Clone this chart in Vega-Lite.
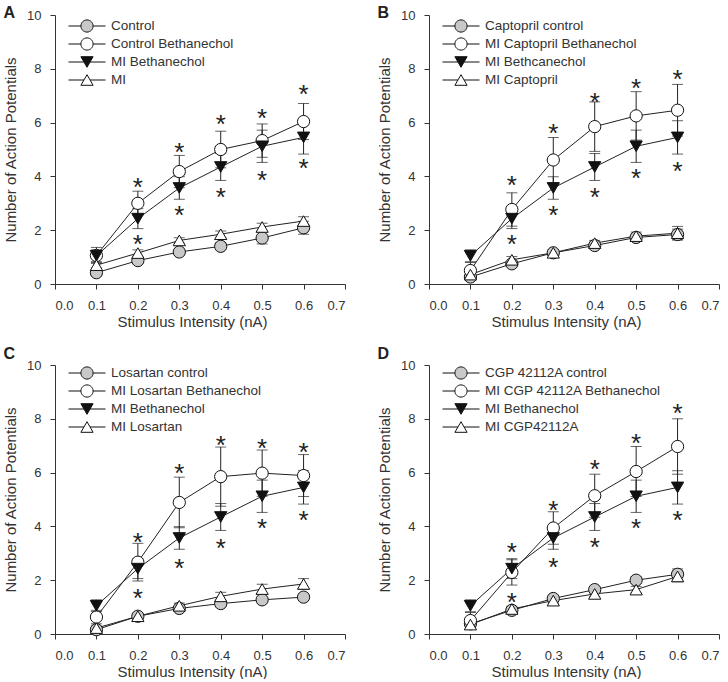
{
  "$schema": "https://vega.github.io/schema/vega-lite/v6.json",
  "padding": {"left": 3, "top": 5, "right": 0, "bottom": 0},
  "bounds": "flush",
  "columns": 2,
  "spacing": {"row": 81, "column": 84},
  "config": {
    "font": "Liberation Sans",
    "view": {"stroke": null},
    "axis": {"labelFontSize": 13, "titleFontSize": 15, "titleFontWeight": "normal", "grid": false, "domainColor": "#333", "tickColor": "#333", "labelColor": "#333", "titleColor": "#333", "tickSize": 5},
    "legend": {"labelFontSize": 13.5, "labelColor": "#333", "labelLimit": 300, "clipHeight": 18, "rowPadding": 0, "symbolSize": 1369, "labelOffset": 5, "symbolOffset": 0, "symbolStrokeWidth": 1, "padding": 0}
  },
  "resolve": {"scale": {"shape": "independent", "fill": "independent"}, "legend": {"shape": "independent", "fill": "independent"}},
  "datasets": {
    "pts": [
      {"p":"A","s":"Control","x":0.1,"y":0.42,"e":0.1},{"p":"A","s":"Control","x":0.2,"y":0.87,"e":0.1},{"p":"A","s":"Control","x":0.3,"y":1.19,"e":0.1},{"p":"A","s":"Control","x":0.4,"y":1.4,"e":0.12},{"p":"A","s":"Control","x":0.5,"y":1.71,"e":0.22},{"p":"A","s":"Control","x":0.6,"y":2.09,"e":0.24},
      {"p":"A","s":"Control Bethanechol","x":0.1,"y":1.06,"e":0.3},{"p":"A","s":"Control Bethanechol","x":0.2,"y":3.0,"e":0.45},{"p":"A","s":"Control Bethanechol","x":0.3,"y":4.18,"e":0.6},{"p":"A","s":"Control Bethanechol","x":0.4,"y":5.0,"e":0.68},{"p":"A","s":"Control Bethanechol","x":0.5,"y":5.33,"e":0.62},{"p":"A","s":"Control Bethanechol","x":0.6,"y":6.04,"e":0.67},
      {"p":"A","s":"MI Bethanechol","x":0.1,"y":1.05,"e":0.22},{"p":"A","s":"MI Bethanechol","x":0.2,"y":2.43,"e":0.37},{"p":"A","s":"MI Bethanechol","x":0.3,"y":3.57,"e":0.42},{"p":"A","s":"MI Bethanechol","x":0.4,"y":4.35,"e":0.5},{"p":"A","s":"MI Bethanechol","x":0.5,"y":5.12,"e":0.6},{"p":"A","s":"MI Bethanechol","x":0.6,"y":5.45,"e":0.62},
      {"p":"A","s":"MI","x":0.1,"y":0.7,"e":0.1},{"p":"A","s":"MI","x":0.2,"y":1.15,"e":0.12},{"p":"A","s":"MI","x":0.3,"y":1.62,"e":0.1},{"p":"A","s":"MI","x":0.4,"y":1.85,"e":0.12},{"p":"A","s":"MI","x":0.5,"y":2.12,"e":0.14},{"p":"A","s":"MI","x":0.6,"y":2.34,"e":0.16},

      {"p":"B","s":"Captopril control","x":0.1,"y":0.26,"e":0.1},{"p":"B","s":"Captopril control","x":0.2,"y":0.75,"e":0.08},{"p":"B","s":"Captopril control","x":0.3,"y":1.16,"e":0.1},{"p":"B","s":"Captopril control","x":0.4,"y":1.43,"e":0.1},{"p":"B","s":"Captopril control","x":0.5,"y":1.73,"e":0.12},{"p":"B","s":"Captopril control","x":0.6,"y":1.84,"e":0.2},
      {"p":"B","s":"MI Captopril Bethanechol","x":0.1,"y":0.5,"e":0.3},{"p":"B","s":"MI Captopril Bethanechol","x":0.2,"y":2.77,"e":0.62},{"p":"B","s":"MI Captopril Bethanechol","x":0.3,"y":4.61,"e":0.84},{"p":"B","s":"MI Captopril Bethanechol","x":0.4,"y":5.85,"e":0.92},{"p":"B","s":"MI Captopril Bethanechol","x":0.5,"y":6.25,"e":0.9},{"p":"B","s":"MI Captopril Bethanechol","x":0.6,"y":6.46,"e":0.96},
      {"p":"B","s":"MI Bethcanechol","x":0.1,"y":1.05,"e":0.22},{"p":"B","s":"MI Bethcanechol","x":0.2,"y":2.43,"e":0.37},{"p":"B","s":"MI Bethcanechol","x":0.3,"y":3.57,"e":0.42},{"p":"B","s":"MI Bethcanechol","x":0.4,"y":4.35,"e":0.5},{"p":"B","s":"MI Bethcanechol","x":0.5,"y":5.12,"e":0.6},{"p":"B","s":"MI Bethcanechol","x":0.6,"y":5.45,"e":0.62},
      {"p":"B","s":"MI Captopril","x":0.1,"y":0.35,"e":0.1},{"p":"B","s":"MI Captopril","x":0.2,"y":0.9,"e":0.12},{"p":"B","s":"MI Captopril","x":0.3,"y":1.16,"e":0.1},{"p":"B","s":"MI Captopril","x":0.4,"y":1.52,"e":0.1},{"p":"B","s":"MI Captopril","x":0.5,"y":1.78,"e":0.15},{"p":"B","s":"MI Captopril","x":0.6,"y":1.89,"e":0.25},

      {"p":"C","s":"Losartan control","x":0.1,"y":0.16,"e":0.08},{"p":"C","s":"Losartan control","x":0.2,"y":0.66,"e":0.08},{"p":"C","s":"Losartan control","x":0.3,"y":0.95,"e":0.08},{"p":"C","s":"Losartan control","x":0.4,"y":1.13,"e":0.1},{"p":"C","s":"Losartan control","x":0.5,"y":1.27,"e":0.1},{"p":"C","s":"Losartan control","x":0.6,"y":1.37,"e":0.1},
      {"p":"C","s":"MI Losartan Bethanechol","x":0.1,"y":0.63,"e":0.25},{"p":"C","s":"MI Losartan Bethanechol","x":0.2,"y":2.67,"e":0.7},{"p":"C","s":"MI Losartan Bethanechol","x":0.3,"y":4.89,"e":0.94},{"p":"C","s":"MI Losartan Bethanechol","x":0.4,"y":5.85,"e":1.1},{"p":"C","s":"MI Losartan Bethanechol","x":0.5,"y":5.98,"e":0.86},{"p":"C","s":"MI Losartan Bethanechol","x":0.6,"y":5.89,"e":0.78},
      {"p":"C","s":"MI Bethanechol","x":0.1,"y":1.05,"e":0.22},{"p":"C","s":"MI Bethanechol","x":0.2,"y":2.43,"e":0.37},{"p":"C","s":"MI Bethanechol","x":0.3,"y":3.57,"e":0.42},{"p":"C","s":"MI Bethanechol","x":0.4,"y":4.35,"e":0.5},{"p":"C","s":"MI Bethanechol","x":0.5,"y":5.12,"e":0.6},{"p":"C","s":"MI Bethanechol","x":0.6,"y":5.45,"e":0.62},
      {"p":"C","s":"MI Losartan","x":0.1,"y":0.22,"e":0.08},{"p":"C","s":"MI Losartan","x":0.2,"y":0.66,"e":0.08},{"p":"C","s":"MI Losartan","x":0.3,"y":1.05,"e":0.1},{"p":"C","s":"MI Losartan","x":0.4,"y":1.4,"e":0.15},{"p":"C","s":"MI Losartan","x":0.5,"y":1.67,"e":0.18},{"p":"C","s":"MI Losartan","x":0.6,"y":1.86,"e":0.2},

      {"p":"D","s":"CGP 42112A control","x":0.1,"y":0.38,"e":0.1},{"p":"D","s":"CGP 42112A control","x":0.2,"y":0.88,"e":0.08},{"p":"D","s":"CGP 42112A control","x":0.3,"y":1.32,"e":0.1},{"p":"D","s":"CGP 42112A control","x":0.4,"y":1.65,"e":0.1},{"p":"D","s":"CGP 42112A control","x":0.5,"y":2.0,"e":0.12},{"p":"D","s":"CGP 42112A control","x":0.6,"y":2.22,"e":0.2},
      {"p":"D","s":"MI CGP 42112A Bethanechol","x":0.1,"y":0.5,"e":0.3},{"p":"D","s":"MI CGP 42112A Bethanechol","x":0.2,"y":2.29,"e":0.47},{"p":"D","s":"MI CGP 42112A Bethanechol","x":0.3,"y":3.94,"e":0.6},{"p":"D","s":"MI CGP 42112A Bethanechol","x":0.4,"y":5.14,"e":0.8},{"p":"D","s":"MI CGP 42112A Bethanechol","x":0.5,"y":6.04,"e":0.93},{"p":"D","s":"MI CGP 42112A Bethanechol","x":0.6,"y":6.97,"e":1.03},
      {"p":"D","s":"MI Bethanechol","x":0.1,"y":1.05,"e":0.22},{"p":"D","s":"MI Bethanechol","x":0.2,"y":2.43,"e":0.37},{"p":"D","s":"MI Bethanechol","x":0.3,"y":3.57,"e":0.42},{"p":"D","s":"MI Bethanechol","x":0.4,"y":4.35,"e":0.5},{"p":"D","s":"MI Bethanechol","x":0.5,"y":5.12,"e":0.6},{"p":"D","s":"MI Bethanechol","x":0.6,"y":5.45,"e":0.62},
      {"p":"D","s":"MI CGP42112A","x":0.1,"y":0.35,"e":0.1},{"p":"D","s":"MI CGP42112A","x":0.2,"y":0.93,"e":0.1},{"p":"D","s":"MI CGP42112A","x":0.3,"y":1.24,"e":0.1},{"p":"D","s":"MI CGP42112A","x":0.4,"y":1.49,"e":0.1},{"p":"D","s":"MI CGP42112A","x":0.5,"y":1.65,"e":0.12},{"p":"D","s":"MI CGP42112A","x":0.6,"y":2.14,"e":0.2}
    ],
    "ast": [
      {"p":"A","x":0.2,"y":3.84},{"p":"A","x":0.2,"y":1.71},{"p":"A","x":0.3,"y":5.14},{"p":"A","x":0.3,"y":2.77},{"p":"A","x":0.4,"y":6.17},{"p":"A","x":0.4,"y":3.44},{"p":"A","x":0.5,"y":6.41},{"p":"A","x":0.5,"y":4.09},{"p":"A","x":0.6,"y":7.27},{"p":"A","x":0.6,"y":4.52},
      {"p":"B","x":0.2,"y":3.9},{"p":"B","x":0.2,"y":1.71},{"p":"B","x":0.3,"y":5.85},{"p":"B","x":0.3,"y":2.77},{"p":"B","x":0.4,"y":7.0},{"p":"B","x":0.4,"y":3.44},{"p":"B","x":0.5,"y":7.52},{"p":"B","x":0.5,"y":4.15},{"p":"B","x":0.6,"y":7.84},{"p":"B","x":0.6,"y":4.44},
      {"p":"C","x":0.2,"y":3.65},{"p":"C","x":0.2,"y":1.56},{"p":"C","x":0.3,"y":6.19},{"p":"C","x":0.3,"y":2.67},{"p":"C","x":0.4,"y":7.24},{"p":"C","x":0.4,"y":3.42},{"p":"C","x":0.5,"y":7.12},{"p":"C","x":0.5,"y":4.16},{"p":"C","x":0.6,"y":6.99},{"p":"C","x":0.6,"y":4.47},
      {"p":"D","x":0.2,"y":3.26},{"p":"D","x":0.2,"y":1.42},{"p":"D","x":0.3,"y":4.84},{"p":"D","x":0.3,"y":2.7},{"p":"D","x":0.4,"y":6.35},{"p":"D","x":0.4,"y":3.44},{"p":"D","x":0.5,"y":7.34},{"p":"D","x":0.5,"y":4.15},{"p":"D","x":0.6,"y":8.45},{"p":"D","x":0.6,"y":4.47}
    ]
  },
  "concat": [
    {
      "title": {"text": "A", "anchor": "start", "frame": "bounds", "fontSize": 16, "fontWeight": "bold", "color": "#222", "baseline": "alphabetic", "offset": -25},
      "width": 290, "height": 269,
      "encoding": {
        "x": {"field": "x", "type": "quantitative", "scale": {"domain": [0, 0.7], "nice": false}, "axis": {"title": "Stimulus Intensity (nA)", "values": [0,0.1,0.2,0.3,0.4,0.5,0.6,0.7], "format": ".1f", "labelPadding": 10, "titlePadding": 2, "titleX": 137}},
        "y": {"field": "y", "type": "quantitative", "scale": {"domain": [0, 10], "nice": false}, "axis": {"title": "Number of Action Potentials", "values": [0,2,4,6,8,10], "format": "d", "labelPadding": 9, "titlePadding": 8}}
      },
      "layer": [
        {"data": {"name": "pts"}, "transform": [{"filter": "datum.p === 'A'"}], "mark": {"type": "errorbar", "ticks": {"size": 11, "color": "#222"}, "rule": {"color": "#222", "strokeWidth": 1}}, "encoding": {"yError": {"field": "e"}, "detail": {"field": "s"}}},
        {"data": {"name": "pts"}, "transform": [{"filter": "datum.p === 'A'"}], "mark": {"type": "line", "color": "#222", "strokeWidth": 1}, "encoding": {"detail": {"field": "s"}}},
        {"data": {"name": "pts"}, "transform": [{"filter": "datum.p === 'A'"}], "mark": {"type": "point", "filled": true, "size": 150, "stroke": "#111", "strokeWidth": 1, "opacity": 1},
         "encoding": {
           "shape": {"field": "s", "scale": {"domain": ["Control", "Control Bethanechol", "MI Bethanechol", "MI"], "range": ["circle", "circle", "triangle-down", "triangle-up"]}, "legend": null},
           "fill": {"field": "s", "scale": {"domain": ["Control", "Control Bethanechol", "MI Bethanechol", "MI"], "range": ["#c8c8c8", "#ffffff", "#111111", "#ffffff"]}, "legend": null}}},
        {"data": {"name": "ast"}, "transform": [{"filter": "datum.p === 'A'"}], "mark": {"type": "text", "text": "*", "fontSize": 26, "baseline": "alphabetic", "dy": 15, "color": "#222"}},
        {"data": {"name": "pts"}, "transform": [{"filter": "datum.p === 'none'"}], "mark": {"type": "point", "filled": true, "stroke": "#111", "strokeWidth": 1, "opacity": 1},
         "encoding": {
           "shape": {"field": "s", "scale": {"domain": ["Control", "Control Bethanechol", "MI Bethanechol", "MI"], "range": ["M-1,0H-0.33M0.33,0H1M-0.33,0A0.33,0.33,0,1,1,0.33,0A0.33,0.33,0,1,1,-0.33,0Z", "M-1,0H-0.33M0.33,0H1M-0.33,0A0.33,0.33,0,1,1,0.33,0A0.33,0.33,0,1,1,-0.33,0Z", "M-1,0H-0.165M0.165,0H1M0,0.287L-0.33,-0.287L0.33,-0.287Z", "M-1,0H-0.165M0.165,0H1M0,-0.287L-0.33,0.287L0.33,0.287Z"]}, "legend": {"title": null, "orient": "none", "legendX": 13, "legendY": 2}},
           "fill": {"field": "s", "scale": {"domain": ["Control", "Control Bethanechol", "MI Bethanechol", "MI"], "range": ["#c8c8c8", "#ffffff", "#111111", "#ffffff"]}, "legend": {"title": null, "orient": "none", "legendX": 13, "legendY": 2}}}}
      ],
      "resolve": {"scale": {"shape": "independent", "fill": "independent"}}
    },
    {
      "title": {"text": "B", "anchor": "start", "frame": "bounds", "fontSize": 16, "fontWeight": "bold", "color": "#222", "baseline": "alphabetic", "offset": -25},
      "width": 290, "height": 269,
      "encoding": {
        "x": {"field": "x", "type": "quantitative", "scale": {"domain": [0, 0.7], "nice": false}, "axis": {"title": "Stimulus Intensity (nA)", "values": [0,0.1,0.2,0.3,0.4,0.5,0.6,0.7], "format": ".1f", "labelPadding": 10, "titlePadding": 2, "titleX": 137}},
        "y": {"field": "y", "type": "quantitative", "scale": {"domain": [0, 10], "nice": false}, "axis": {"title": "Number of Action Potentials", "values": [0,2,4,6,8,10], "format": "d", "labelPadding": 9, "titlePadding": 8}}
      },
      "layer": [
        {"data": {"name": "pts"}, "transform": [{"filter": "datum.p === 'B'"}], "mark": {"type": "errorbar", "ticks": {"size": 11, "color": "#222"}, "rule": {"color": "#222", "strokeWidth": 1}}, "encoding": {"yError": {"field": "e"}, "detail": {"field": "s"}}},
        {"data": {"name": "pts"}, "transform": [{"filter": "datum.p === 'B'"}], "mark": {"type": "line", "color": "#222", "strokeWidth": 1}, "encoding": {"detail": {"field": "s"}}},
        {"data": {"name": "pts"}, "transform": [{"filter": "datum.p === 'B'"}], "mark": {"type": "point", "filled": true, "size": 150, "stroke": "#111", "strokeWidth": 1, "opacity": 1},
         "encoding": {
           "shape": {"field": "s", "scale": {"domain": ["Captopril control", "MI Captopril Bethanechol", "MI Bethcanechol", "MI Captopril"], "range": ["circle", "circle", "triangle-down", "triangle-up"]}, "legend": null},
           "fill": {"field": "s", "scale": {"domain": ["Captopril control", "MI Captopril Bethanechol", "MI Bethcanechol", "MI Captopril"], "range": ["#c8c8c8", "#ffffff", "#111111", "#ffffff"]}, "legend": null}}},
        {"data": {"name": "ast"}, "transform": [{"filter": "datum.p === 'B'"}], "mark": {"type": "text", "text": "*", "fontSize": 26, "baseline": "alphabetic", "dy": 15, "color": "#222"}},
        {"data": {"name": "pts"}, "transform": [{"filter": "datum.p === 'none'"}], "mark": {"type": "point", "filled": true, "stroke": "#111", "strokeWidth": 1, "opacity": 1},
         "encoding": {
           "shape": {"field": "s", "scale": {"domain": ["Captopril control", "MI Captopril Bethanechol", "MI Bethcanechol", "MI Captopril"], "range": ["M-1,0H-0.33M0.33,0H1M-0.33,0A0.33,0.33,0,1,1,0.33,0A0.33,0.33,0,1,1,-0.33,0Z", "M-1,0H-0.33M0.33,0H1M-0.33,0A0.33,0.33,0,1,1,0.33,0A0.33,0.33,0,1,1,-0.33,0Z", "M-1,0H-0.165M0.165,0H1M0,0.287L-0.33,-0.287L0.33,-0.287Z", "M-1,0H-0.165M0.165,0H1M0,-0.287L-0.33,0.287L0.33,0.287Z"]}, "legend": {"title": null, "orient": "none", "legendX": 13, "legendY": 2}},
           "fill": {"field": "s", "scale": {"domain": ["Captopril control", "MI Captopril Bethanechol", "MI Bethcanechol", "MI Captopril"], "range": ["#c8c8c8", "#ffffff", "#111111", "#ffffff"]}, "legend": {"title": null, "orient": "none", "legendX": 13, "legendY": 2}}}}
      ],
      "resolve": {"scale": {"shape": "independent", "fill": "independent"}}
    },
    {
      "title": {"text": "C", "anchor": "start", "frame": "bounds", "fontSize": 16, "fontWeight": "bold", "color": "#222", "baseline": "alphabetic", "offset": -16},
      "width": 290, "height": 269,
      "encoding": {
        "x": {"field": "x", "type": "quantitative", "scale": {"domain": [0, 0.7], "nice": false}, "axis": {"title": "Stimulus Intensity (nA)", "values": [0,0.1,0.2,0.3,0.4,0.5,0.6,0.7], "format": ".1f", "labelPadding": 10, "titlePadding": 2, "titleX": 137}},
        "y": {"field": "y", "type": "quantitative", "scale": {"domain": [0, 10], "nice": false}, "axis": {"title": "Number of Action Potentials", "values": [0,2,4,6,8,10], "format": "d", "labelPadding": 9, "titlePadding": 8}}
      },
      "layer": [
        {"data": {"name": "pts"}, "transform": [{"filter": "datum.p === 'C'"}], "mark": {"type": "errorbar", "ticks": {"size": 11, "color": "#222"}, "rule": {"color": "#222", "strokeWidth": 1}}, "encoding": {"yError": {"field": "e"}, "detail": {"field": "s"}}},
        {"data": {"name": "pts"}, "transform": [{"filter": "datum.p === 'C'"}], "mark": {"type": "line", "color": "#222", "strokeWidth": 1}, "encoding": {"detail": {"field": "s"}}},
        {"data": {"name": "pts"}, "transform": [{"filter": "datum.p === 'C'"}], "mark": {"type": "point", "filled": true, "size": 150, "stroke": "#111", "strokeWidth": 1, "opacity": 1},
         "encoding": {
           "shape": {"field": "s", "scale": {"domain": ["Losartan control", "MI Losartan Bethanechol", "MI Bethanechol", "MI Losartan"], "range": ["circle", "circle", "triangle-down", "triangle-up"]}, "legend": null},
           "fill": {"field": "s", "scale": {"domain": ["Losartan control", "MI Losartan Bethanechol", "MI Bethanechol", "MI Losartan"], "range": ["#c8c8c8", "#ffffff", "#111111", "#ffffff"]}, "legend": null}}},
        {"data": {"name": "ast"}, "transform": [{"filter": "datum.p === 'C'"}], "mark": {"type": "text", "text": "*", "fontSize": 26, "baseline": "alphabetic", "dy": 15, "color": "#222"}},
        {"data": {"name": "pts"}, "transform": [{"filter": "datum.p === 'none'"}], "mark": {"type": "point", "filled": true, "stroke": "#111", "strokeWidth": 1, "opacity": 1},
         "encoding": {
           "shape": {"field": "s", "scale": {"domain": ["Losartan control", "MI Losartan Bethanechol", "MI Bethanechol", "MI Losartan"], "range": ["M-1,0H-0.33M0.33,0H1M-0.33,0A0.33,0.33,0,1,1,0.33,0A0.33,0.33,0,1,1,-0.33,0Z", "M-1,0H-0.33M0.33,0H1M-0.33,0A0.33,0.33,0,1,1,0.33,0A0.33,0.33,0,1,1,-0.33,0Z", "M-1,0H-0.165M0.165,0H1M0,0.287L-0.33,-0.287L0.33,-0.287Z", "M-1,0H-0.165M0.165,0H1M0,-0.287L-0.33,0.287L0.33,0.287Z"]}, "legend": {"title": null, "orient": "none", "legendX": 13, "legendY": -1}},
           "fill": {"field": "s", "scale": {"domain": ["Losartan control", "MI Losartan Bethanechol", "MI Bethanechol", "MI Losartan"], "range": ["#c8c8c8", "#ffffff", "#111111", "#ffffff"]}, "legend": {"title": null, "orient": "none", "legendX": 13, "legendY": -1}}}}
      ],
      "resolve": {"scale": {"shape": "independent", "fill": "independent"}}
    },
    {
      "title": {"text": "D", "anchor": "start", "frame": "bounds", "fontSize": 16, "fontWeight": "bold", "color": "#222", "baseline": "alphabetic", "offset": -16},
      "width": 290, "height": 269,
      "encoding": {
        "x": {"field": "x", "type": "quantitative", "scale": {"domain": [0, 0.7], "nice": false}, "axis": {"title": "Stimulus Intensity (nA)", "values": [0,0.1,0.2,0.3,0.4,0.5,0.6,0.7], "format": ".1f", "labelPadding": 10, "titlePadding": 2, "titleX": 137}},
        "y": {"field": "y", "type": "quantitative", "scale": {"domain": [0, 10], "nice": false}, "axis": {"title": "Number of Action Potentials", "values": [0,2,4,6,8,10], "format": "d", "labelPadding": 9, "titlePadding": 8}}
      },
      "layer": [
        {"data": {"name": "pts"}, "transform": [{"filter": "datum.p === 'D'"}], "mark": {"type": "errorbar", "ticks": {"size": 11, "color": "#222"}, "rule": {"color": "#222", "strokeWidth": 1}}, "encoding": {"yError": {"field": "e"}, "detail": {"field": "s"}}},
        {"data": {"name": "pts"}, "transform": [{"filter": "datum.p === 'D'"}], "mark": {"type": "line", "color": "#222", "strokeWidth": 1}, "encoding": {"detail": {"field": "s"}}},
        {"data": {"name": "pts"}, "transform": [{"filter": "datum.p === 'D'"}], "mark": {"type": "point", "filled": true, "size": 150, "stroke": "#111", "strokeWidth": 1, "opacity": 1},
         "encoding": {
           "shape": {"field": "s", "scale": {"domain": ["CGP 42112A control", "MI CGP 42112A Bethanechol", "MI Bethanechol", "MI CGP42112A"], "range": ["circle", "circle", "triangle-down", "triangle-up"]}, "legend": null},
           "fill": {"field": "s", "scale": {"domain": ["CGP 42112A control", "MI CGP 42112A Bethanechol", "MI Bethanechol", "MI CGP42112A"], "range": ["#c8c8c8", "#ffffff", "#111111", "#ffffff"]}, "legend": null}}},
        {"data": {"name": "ast"}, "transform": [{"filter": "datum.p === 'D'"}], "mark": {"type": "text", "text": "*", "fontSize": 26, "baseline": "alphabetic", "dy": 15, "color": "#222"}},
        {"data": {"name": "pts"}, "transform": [{"filter": "datum.p === 'none'"}], "mark": {"type": "point", "filled": true, "stroke": "#111", "strokeWidth": 1, "opacity": 1},
         "encoding": {
           "shape": {"field": "s", "scale": {"domain": ["CGP 42112A control", "MI CGP 42112A Bethanechol", "MI Bethanechol", "MI CGP42112A"], "range": ["M-1,0H-0.33M0.33,0H1M-0.33,0A0.33,0.33,0,1,1,0.33,0A0.33,0.33,0,1,1,-0.33,0Z", "M-1,0H-0.33M0.33,0H1M-0.33,0A0.33,0.33,0,1,1,0.33,0A0.33,0.33,0,1,1,-0.33,0Z", "M-1,0H-0.165M0.165,0H1M0,0.287L-0.33,-0.287L0.33,-0.287Z", "M-1,0H-0.165M0.165,0H1M0,-0.287L-0.33,0.287L0.33,0.287Z"]}, "legend": {"title": null, "orient": "none", "legendX": 13, "legendY": -1}},
           "fill": {"field": "s", "scale": {"domain": ["CGP 42112A control", "MI CGP 42112A Bethanechol", "MI Bethanechol", "MI CGP42112A"], "range": ["#c8c8c8", "#ffffff", "#111111", "#ffffff"]}, "legend": {"title": null, "orient": "none", "legendX": 13, "legendY": -1}}}}
      ],
      "resolve": {"scale": {"shape": "independent", "fill": "independent"}}
    }
  ]
}
